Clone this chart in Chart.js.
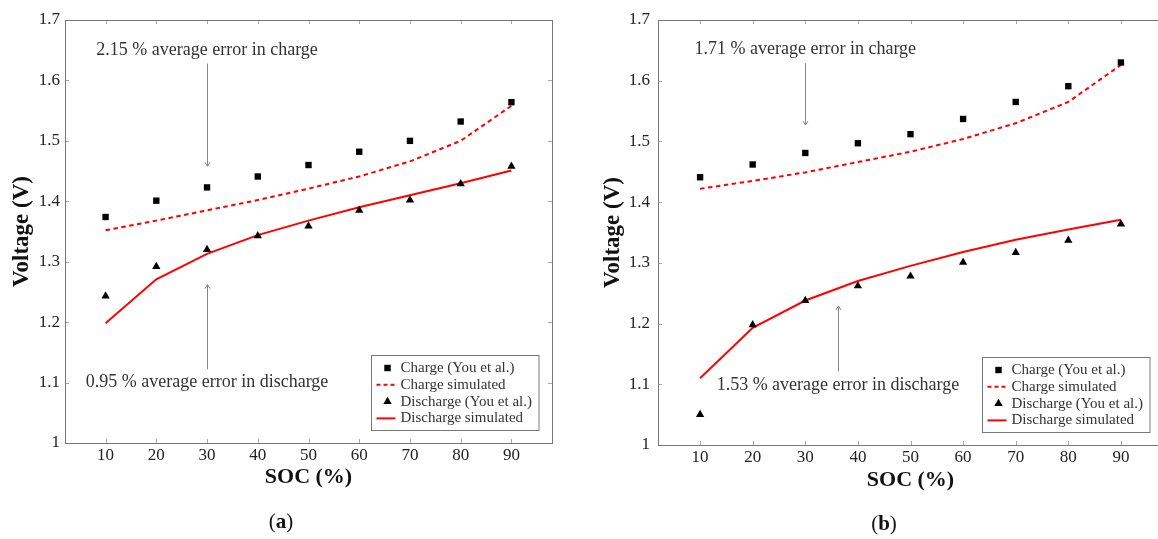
<!DOCTYPE html>
<html lang="en">
<head>
<meta charset="utf-8">
<script src="https://cdn.jsdelivr.net/npm/chart.js"></script>
<style>
  body { margin: 0; width: 1158px; height: 539px; overflow: hidden; background: #fff; position: relative; font-family: "Liberation Serif", serif; }
  .panel { position: absolute; top: 0; }
  .tag { position: absolute; font-size: 21px; color: #111; transform: translateX(-50%); line-height: 24px; }
</style>
</head>
<body>

<div class="panel" style="left:0"><canvas id="chartA" width="580" height="539"></canvas></div>
<div class="panel" style="left:580px"><canvas id="chartB" width="600" height="539"></canvas></div>
<div class="tag" style="left:281px; top:509px">(<b>a</b>)</div>
<div class="tag" style="left:884px; top:511px">(<b>b</b>)</div>

<script>
// x categories and tick labels
const soc = [10, 20, 30, 40, 50, 60, 70, 80, 90];
const yTicks = [1, 1.1, 1.2, 1.3, 1.4, 1.5, 1.6, 1.7];
const legendLabels = ['Charge (You et al.)', 'Charge simulated', 'Discharge (You et al.)', 'Discharge simulated'];

// panel (a)
const chargeA       = [1.374, 1.401, 1.423, 1.441, 1.460, 1.482, 1.500, 1.532, 1.564];
const chargeSimA    = [1.352, 1.368, 1.385, 1.402, 1.421, 1.441, 1.466, 1.500, 1.558];
const dischargeA    = [1.243, 1.292, 1.320, 1.343, 1.359, 1.385, 1.402, 1.429, 1.458];
const dischargeSimA = [1.198, 1.271, 1.313, 1.344, 1.368, 1.390, 1.410, 1.430, 1.451];
const notesA = ['2.15 % average error in charge', '0.95 % average error in discharge'];

// panel (b)
const chargeB       = [1.441, 1.462, 1.481, 1.497, 1.512, 1.537, 1.565, 1.591, 1.630];
const chargeSimB    = [1.422, 1.435, 1.449, 1.466, 1.483, 1.504, 1.530, 1.565, 1.626];
const dischargeB    = [1.050, 1.198, 1.238, 1.262, 1.278, 1.301, 1.317, 1.337, 1.364];
const dischargeSimB = [1.110, 1.193, 1.238, 1.270, 1.295, 1.318, 1.338, 1.355, 1.371];
const notesB = ['1.71 % average error in charge', '1.53 % average error in discharge'];

Chart.defaults.font.family = '"Liberation Serif", serif';

const pts = v => soc.map((x, i) => ({ x: x, y: v[i] }));

function makeSets(charge, chargeSim, discharge, dischargeSim) {
    return [
        { label: legendLabels[0], data: pts(charge), showLine: false, pointStyle: 'rect', pointRadius: 4.5,
          pointBackgroundColor: '#000', pointBorderWidth: 0 },
        { label: legendLabels[1], data: pts(chargeSim), showLine: true, borderColor: '#ff0000', borderWidth: 2,
          borderDash: [4.5, 3.5], pointRadius: 0, tension: 0 },
        { label: legendLabels[2], data: pts(discharge), showLine: false, pointStyle: 'triangle', pointRadius: 4.8,
          pointBackgroundColor: '#000', pointBorderWidth: 0 },
        { label: legendLabels[3], data: pts(dischargeSim), showLine: true, borderColor: '#ff0000', borderWidth: 2,
          pointRadius: 0, tension: 0 }
    ];
}

// frame, inner ticks, annotations and the boxed legend
const decor = {
    id: 'decor',
    afterDraw(chart, args, o) {
        const { ctx, chartArea: a, scales: { x, y } } = chart;
        ctx.save();

        ctx.strokeStyle = '#a8a8a8';
        ctx.lineWidth = 1;
        ctx.beginPath();
        soc.forEach(v => {
            const px = Math.round(x.getPixelForValue(v)) + 0.5;
            ctx.moveTo(px, a.bottom); ctx.lineTo(px, a.bottom - 4);
            ctx.moveTo(px, a.top); ctx.lineTo(px, a.top + 4);
        });
        yTicks.forEach(v => {
            const py = Math.round(y.getPixelForValue(v)) + 0.5;
            ctx.moveTo(a.left, py); ctx.lineTo(a.left + 4, py);
            ctx.moveTo(a.right, py); ctx.lineTo(a.right - 4, py);
        });
        ctx.stroke();

        ctx.strokeStyle = '#777';
        ctx.strokeRect(Math.round(a.left) + 0.5, Math.round(a.top) + 0.5,
                       Math.round(a.right - a.left), Math.round(a.bottom - a.top));

        // annotations
        ctx.font = '18px "Liberation Serif"';
        ctx.textAlign = 'center';
        ctx.textBaseline = 'middle';
        o.notes.forEach(n => {
            ctx.fillStyle = '#333';
            ctx.fillText(n.text, x.getPixelForValue(n.tx), y.getPixelForValue(n.ty));
            const ax = Math.round(x.getPixelForValue(n.ax)) + 0.5;
            const y0 = y.getPixelForValue(n.from), y1 = y.getPixelForValue(n.to);
            const dir = y1 > y0 ? 1 : -1;
            ctx.strokeStyle = '#888';
            ctx.beginPath();
            ctx.moveTo(ax, y0); ctx.lineTo(ax, y1);
            ctx.moveTo(ax - 2.5, y1 - dir * 4); ctx.lineTo(ax, y1); ctx.lineTo(ax + 2.5, y1 - dir * 4);
            ctx.stroke();
        });

        // legend
        ctx.font = '15px "Liberation Serif"';
        const w = 29 + Math.max(...legendLabels.map(t => ctx.measureText(t).width)) + 7;
        const h = 75;
        const bx = Math.round(a.right - 13 - w) + 0.5, by = Math.round(a.bottom - 13 - h) + 0.5;
        ctx.fillStyle = '#fff';
        ctx.fillRect(bx, by, w, h);
        ctx.strokeStyle = '#777';
        ctx.strokeRect(bx, by, w, h);
        legendLabels.forEach((t, i) => {
            const cy = by + 12.5 + i * 16.8;
            const mx = bx + 16;
            ctx.fillStyle = '#000';
            if (i === 0) {
                ctx.fillRect(mx - 3.2, cy - 3.2, 6.4, 6.4);
            } else if (i === 2) {
                ctx.beginPath();
                ctx.moveTo(mx, cy - 4.8); ctx.lineTo(mx + 4.2, cy + 2.4); ctx.lineTo(mx - 4.2, cy + 2.4);
                ctx.closePath(); ctx.fill();
            } else {
                ctx.strokeStyle = '#ff0000';
                ctx.lineWidth = 2;
                ctx.setLineDash(i === 1 ? [4, 3] : []);
                ctx.beginPath(); ctx.moveTo(bx + 5, cy); ctx.lineTo(bx + 24, cy); ctx.stroke();
                ctx.setLineDash([]);
                ctx.lineWidth = 1;
            }
            ctx.fillStyle = '#333';
            ctx.textAlign = 'left';
            ctx.fillText(t, bx + 29, cy);
        });
        ctx.restore();
    }
};

function makeChart(id, sets, cfg) {
    return new Chart(document.getElementById(id), {
        type: 'scatter',
        data: { datasets: sets },
        plugins: [decor],
        options: {
            responsive: false,
            animation: false,
            layout: { padding: { left: 0, top: 20, right: cfg.padRight, bottom: 0 } },
            plugins: { legend: { display: false }, tooltip: { enabled: false }, decor: { notes: cfg.notes } },
            scales: {
                x: {
                    type: 'linear', min: 2, max: 98,
                    afterBuildTicks: s => { s.ticks = soc.map(v => ({ value: v })); },
                    afterFit: s => { s.height = cfg.xHeight; },
                    grid: { display: false, drawTicks: false }, border: { display: false },
                    ticks: { padding: 2, color: '#222', font: { size: 17 } },
                    title: { display: true, text: 'SOC (%)', color: '#111', font: { size: 22, weight: 'bold' },
                             padding: { top: 0, bottom: cfg.xTitlePad } }
                },
                y: {
                    type: 'linear', min: 1, max: 1.7,
                    afterBuildTicks: s => { s.ticks = yTicks.map(v => ({ value: v })); },
                    afterFit: s => { s.width = cfg.yWidth; },
                    grid: { display: false, drawTicks: false }, border: { display: false },
                    ticks: { padding: cfg.yTickPad, color: '#222', font: { size: 17 },
                             callback: v => String(Math.round(v * 10) / 10) },
                    title: { display: true, text: 'Voltage (V)', color: '#111', font: { size: 23, weight: 'bold' },
                             padding: { top: cfg.yTitlePad, bottom: 0 } }
                }
            }
        }
    });
}

makeChart('chartA', makeSets(chargeA, chargeSimA, dischargeA, dischargeSimA), {
    padRight: 28, xHeight: 96, yWidth: 65, yTickPad: 5, xTitlePad: 48.8, yTitlePad: 8.2,
    notes: [
        { text: notesA[0], tx: 30, ty: 1.650, ax: 30, from: 1.628, to: 1.458 },
        { text: notesA[1], tx: 30, ty: 1.100, ax: 30, from: 1.122, to: 1.262 }
    ]
});

makeChart('chartB', makeSets(chargeB, chargeSimB, dischargeB, dischargeSimB), {
    padRight: 17, xHeight: 94, yWidth: 78, yTickPad: 8, xTitlePad: 45.8, yTitlePad: 19.2,
    notes: [
        { text: notesB[0], tx: 30, ty: 1.651, ax: 30, from: 1.629, to: 1.527 },
        { text: notesB[1], tx: 36.2, ty: 1.099, ax: 36.2, from: 1.121, to: 1.229 }
    ]
});
</script>
</body>
</html>
